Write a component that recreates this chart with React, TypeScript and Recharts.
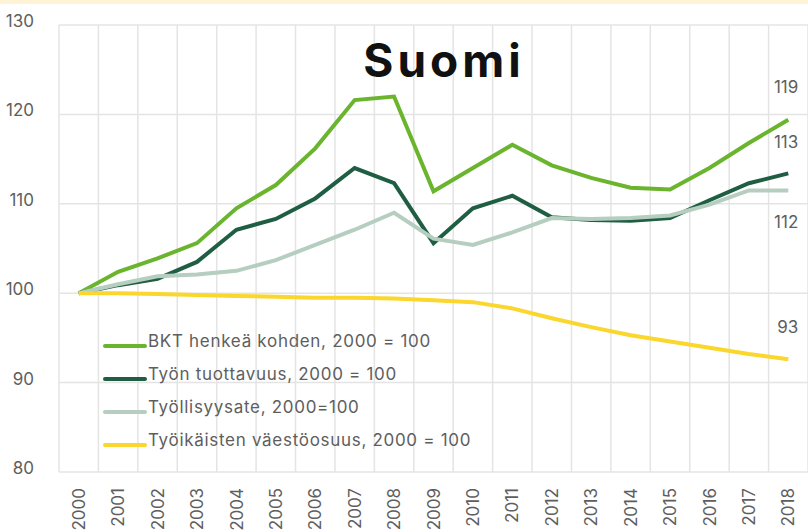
import React from "react";
import { LineChart, Line, XAxis, YAxis, CartesianGrid, LabelList } from "recharts";

const years = ["2000", "2001", "2002", "2003", "2004", "2005", "2006", "2007", "2008", "2009", "2010", "2011", "2012", "2013", "2014", "2015", "2016", "2017", "2018"];
const bkt = [100, 102.4, 103.9, 105.6, 109.5, 112.1, 116.2, 121.6, 122.0, 111.4, 114.0, 116.6, 114.3, 112.9, 111.8, 111.6, 114.0, 116.8, 119.4];
const tuottavuus = [100, 100.9, 101.6, 103.5, 107.1, 108.3, 110.6, 114.0, 112.3, 105.6, 109.5, 110.9, 108.5, 108.2, 108.1, 108.4, 110.4, 112.3, 113.4];
const tyollisyys = [100, 101.0, 101.9, 102.1, 102.5, 103.7, 105.4, 107.1, 109.0, 106.1, 105.4, 106.8, 108.4, 108.3, 108.4, 108.7, 109.9, 111.5, 111.5];
const vaesto = [100, 100.0, 99.9, 99.8, 99.7, 99.6, 99.5, 99.5, 99.4, 99.2, 99.0, 98.3, 97.2, 96.2, 95.3, 94.6, 93.9, 93.2, 92.6];
const yTicks = [80, 90, 100, 110, 120, 130];

const series = [
  { key: "bkt", name: "BKT henkeä kohden, 2000 = 100", color: "#6ab42e", end: "119", dy: -33 },
  { key: "tuottavuus", name: "Työn tuottavuus, 2000 = 100", color: "#1f5e43", end: "113", dy: -31 },
  { key: "tyollisyys", name: "Työllisyysate, 2000=100", color: "#b5cebf", end: "112", dy: 32 },
  { key: "vaesto", name: "Työikäisten väestöosuus, 2000 = 100", color: "#fbd62c", end: "93", dy: -32 },
];

const data = years.map((year, i) => ({
  i,
  year,
  bkt: bkt[i],
  tuottavuus: tuottavuus[i],
  tyollisyys: tyollisyys[i],
  vaesto: vaesto[i],
}));

const gridX = [...years.map((_, i) => i - 0.5), years.length - 0.5];
const FONT = "Inter, 'Noto Sans', sans-serif";
const TEXT = "#5e5e5e";

const YTick = (props: any) => {
  const { y, payload } = props;
  return (
    <text x={34} y={y - 4} textAnchor="end" dominantBaseline="central" fontSize={17} fill={TEXT} fontFamily={FONT}>
      {payload.value}
    </text>
  );
};

const XTick = (props: any) => {
  const { x, payload } = props;
  return (
    <text
      x={x}
      y={488}
      transform={`rotate(-90 ${x} 488)`}
      textAnchor="end"
      dy="0.36em"
      fontSize={17}
      fill={TEXT}
      fontFamily={FONT}
    >
      {years[payload.value]}
    </text>
  );
};

const endLabel = (text: string, dy: number) => (props: any) => {
  const { x, y, index } = props;
  if (index !== years.length - 1) return null;
  return (
    <text x={x + 10} y={y + dy} textAnchor="end" dominantBaseline="central" fontSize={17} fill={TEXT} fontFamily={FONT}>
      {text}
    </text>
  );
};

export default function App() {
  return (
    <div style={{ position: "absolute", left: 0, top: 0, width: 808, height: 532, background: "#fff", overflow: "hidden" }}>
      <div style={{ position: "absolute", left: 0, top: 0, width: 808, height: 4, background: "#fef3d4" }} />
      <LineChart width={808} height={532} data={data} margin={{ top: 25, right: 0, left: 0, bottom: 0 }}>
        <CartesianGrid stroke="#e4e4e4" strokeWidth={1.5} verticalValues={gridX} horizontalValues={yTicks} />
        <XAxis
          dataKey="i"
          type="number"
          domain={[-0.5, years.length - 0.5]}
          ticks={years.map((_, i) => i)}
          interval={0}
          height={60}
          axisLine={false}
          tickLine={false}
          tick={<XTick />}
        />
        <YAxis
          domain={[80, 130]}
          ticks={yTicks}
          width={59}
          axisLine={false}
          tickLine={false}
          tick={<YTick />}
        />
        {series.map((s) => (
          <Line
            key={s.key}
            dataKey={s.key}
            stroke={s.color}
            strokeWidth={4}
            dot={false}
            isAnimationActive={false}
          >
            <LabelList content={endLabel(s.end, s.dy)} />
          </Line>
        ))}
      </LineChart>
      <svg width={808} height={532} style={{ position: "absolute", left: 0, top: 0, pointerEvents: "none" }}>
        <text x={444} y={77} textAnchor="middle" fontSize={46} fontWeight={700} fill="#111" fontFamily={FONT} letterSpacing={4}>
          Suomi
        </text>
        {series.map((s, k) => (
          <g key={s.key}>
            <line x1={105} x2={145} y1={346 + k * 33} y2={346 + k * 33} stroke={s.color} strokeWidth={4} strokeLinecap="round" />
            <text x={148} y={341 + k * 33} dominantBaseline="central" fontSize={17} fill={TEXT} fontFamily={FONT} letterSpacing={0.7}>
              {s.name}
            </text>
          </g>
        ))}
      </svg>
    </div>
  );
}
